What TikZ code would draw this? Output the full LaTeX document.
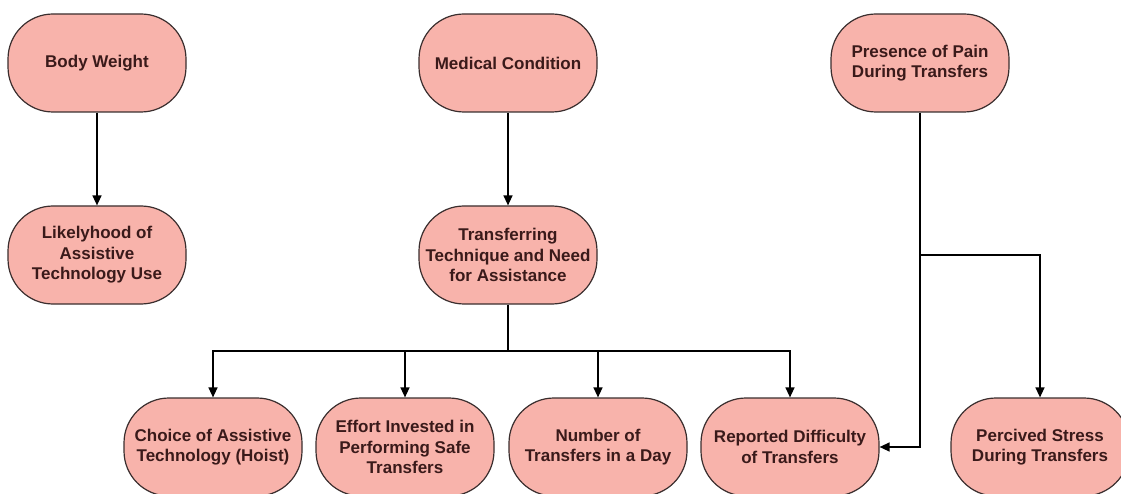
\documentclass[tikz,border=0pt]{standalone}
\usepackage{fontspec}
\setmainfont{Liberation Sans}
\usetikzlibrary{arrows.meta}
\definecolor{boxfill}{HTML}{F8B3AB}
\definecolor{boxline}{HTML}{3A2E2E}
\definecolor{boxtext}{HTML}{3A1A1A}
\tikzset{
  x=1pt, y=-1pt,
  term/.style={draw=boxline, line width=1.2pt, fill=boxfill, rounded corners=45pt,
    minimum width=178pt, minimum height=98pt, inner sep=0pt, align=center,
    text=boxtext, font=\fontsize{17}{20.5}\selectfont\bfseries},
  link/.style={draw=black, line width=1.4pt},
  arr/.style={link, -{Triangle[length=10pt,width=9pt]}}
}
\begin{document}
\begin{tikzpicture}
\useasboundingbox (0,0) rectangle (1121,494);
\node[term] (bw) at (97,63) {Body Weight};
\node[term] (mc) at (508,63) {Medical Condition};
\node[term] (pp) at (920,63) {Presence of Pain\\During Transfers};
\node[term] (la) at (97,255) {Likelyhood of\\Assistive\\Technology Use};
\node[term] (tt) at (508,255) {Transferring\\Technique and Need\\for Assistance};
\node[term] (ca) at (213,447) {Choice of Assistive\\Technology (Hoist)};
\node[term] (ef) at (405,447) {Effort Invested in\\Performing Safe\\Transfers};
\node[term] (nt) at (598,447) {Number of\\Transfers in a Day};
\node[term] (rd) at (790,447) {Reported Difficulty\\of Transfers};
\node[term] (ps) at (1040,447) {Percived Stress\\During Transfers};

\coordinate (bus) at (508,351);
\coordinate (pbr) at (920,255);

\draw[arr] (bw) -- (la);
\draw[arr] (mc) -- (tt);
\draw[link] (tt) -- (bus);
\draw[arr] (bus) -| (ca);
\draw[arr] (bus) -| (ef);
\draw[arr] (bus) -| (nt);
\draw[arr] (bus) -| (rd);
\draw[arr] (pp) |- (rd);
\draw[arr] (pbr) -| (ps);
\end{tikzpicture}
\end{document}
